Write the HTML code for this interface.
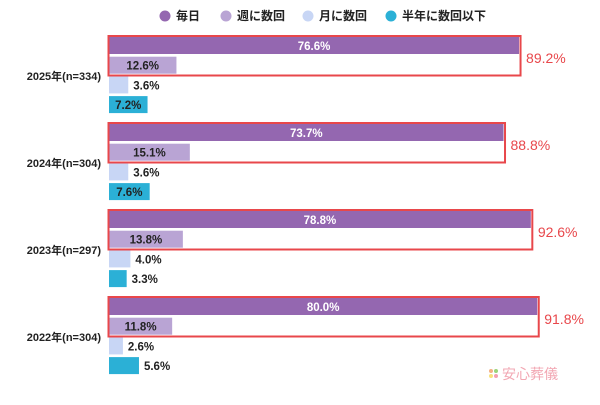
<!DOCTYPE html>
<html><head><meta charset="utf-8">
<style>
body{margin:0;background:#fff;width:600px;height:400px;overflow:hidden;font-family:"Liberation Sans","Noto Sans CJK JP",sans-serif}
svg text{font-family:"Liberation Sans","Noto Sans CJK JP",sans-serif}
</style></head><body>
<svg id="c" width="600" height="400">
<g id="legend"></g>
<g id="plot"></g>
<g>
<circle cx="491" cy="371" r="2" fill="#f4b183"/><circle cx="496" cy="371" r="2" fill="#9bd37a"/><circle cx="491" cy="376" r="2" fill="#f9e07a"/><circle cx="496" cy="376" r="2" fill="#f4a0b0"/>
<text x="502" y="379" font-size="14" fill="#f2a7b3" font-family="Noto Sans CJK JP">安心葬儀</text>
</g>
</svg>
<script>
const categories=["2025年(n=334)","2024年(n=304)","2023年(n=297)","2022年(n=304)"];
const seriesNames=["毎日","週に数回","月に数回","半年に数回以下"];
const daily=[76.6,73.7,78.8,80.0];
const weekly=[12.6,15.1,13.8,11.8];
const monthly=[3.6,3.6,4.0,2.6];
const rarely=[7.2,7.6,3.3,5.6];
const totals=[89.2,88.8,92.6,91.8];
const colors=["#9467b0","#b9a4d4","#c8d6f5","#2bb0d6"];
const NS="http://www.w3.org/2000/svg";
const svg=document.getElementById('c'),plot=document.getElementById('plot'),leg=document.getElementById('legend');
const x0=109,pxPer=5.353;
const xs=v=>x0+v*pxPer;
const groupTop=i=>37+i*87;
const barY=(i,k)=>groupTop(i)+k*19.7;
const bh=17;
function mk(t,a,p){const e=document.createElementNS(NS,t);for(const k in a)e.setAttribute(k,a[k]);p.appendChild(e);return e;}
// legend
const lx=[165,226,308,391];
seriesNames.forEach((n,k)=>{
 const g=mk('g',{},leg);
 
 
 mk('circle',{cx:lx[k],cy:16,r:5.5,fill:colors[k]},g);
 const t=mk('text',{x:lx[k]+11,y:20,'font-size':12,'font-weight':'bold',fill:'#222'},g);t.textContent=n;
});
const series=[daily,weekly,monthly,rarely];
categories.forEach((c,i)=>{
 const lab=mk('text',{x:101,y:groupTop(i)+43,'text-anchor':'end','font-size':11,'font-weight':'bold',fill:'#222'},plot);
 lab.textContent=c;
 
 
 series.forEach((s,k)=>{
  const v=s[i],y=barY(i,k),w=v*pxPer;
  const r=mk('rect',{x:x0,y:y,width:w,height:bh,fill:colors[k]},plot);
  
  
  const inside=w>36;
  const t=mk('text',{x:inside?x0+w/2:x0+w+5,y:y+13,'text-anchor':inside?'middle':'start','font-size':11.5,'font-weight':'bold',fill:k==0?'#fff':'#222'},plot);
  t.textContent=v.toFixed(1)+'%';
  
  
 });
 const bx=mk('rect',{x:x0-0.5,y:barY(i,0)-1,width:daily[i]*pxPer+2,height:bh*2+5.5,fill:'none',stroke:'#e8474b','stroke-width':2},plot);
 
 
 const tt=mk('text',{x:x0+daily[i]*pxPer+7,y:barY(i,0)+26,'font-size':14,fill:'#e8474b'},plot);
 tt.textContent=totals[i].toFixed(1)+'%';
 
 
});
</script>
</body></html>
